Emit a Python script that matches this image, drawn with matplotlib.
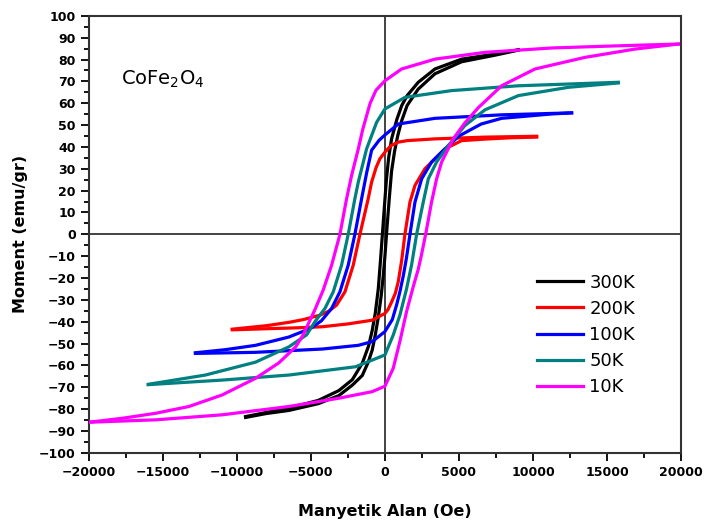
import matplotlib
matplotlib.use("Agg")
import matplotlib.pyplot as plt
from matplotlib.ticker import MultipleLocator

# hysteresis loops of CoFe2O4
# each temperature: descending branch (+Hmax -> -Hmax) and ascending branch (-Hmax -> +Hmax)
h_300_down = [9010, 7430, 5180, 3380, 2250, 1500, 1130, 800, 450, 250, 100, 0, -150, -300, -450,
              -650, -860, -1100, -1530, -2200, -3110, -4500, -6490, -8000, -9410]
m_300_down = [84.5, 82.5, 80.2, 75.7, 69.6, 63.5, 58.9, 52.5, 43.7, 35, 25, 16, 2, -12, -25,
              -36, -44, -51, -59, -66.5, -71.5, -76, -79.5, -81.5, -83.4]
h_300_up = [-9410, -8000, -6490, -4500, -3110, -2200, -1530, -1130, -860, -650, -450, -250, -100,
            0, 150, 300, 450, 650, 860, 1130, 1500, 2250, 3380, 5180, 7430, 9010]
m_300_up = [-83.8, -82, -80.6, -77.5, -73.8, -69, -64.6, -58.5, -53, -46, -38, -28, -18,
            -10, 4, 17, 29, 38, 45, 52, 59, 66.5, 73.5, 79, 82, 84.3]

h_200_down = [10250, 6760, 3380, 1500, 900, 400, 0, -340, -600, -900, -1130, -1690, -2140, -2700,
              -3270, -3800, -4390, -5500, -6420, -8000, -10310]
m_200_down = [44.9, 44.5, 43.7, 42.9, 42.2, 40.6, 37.6, 34.6, 30.5, 23.9, 16.3, 0, -14.1, -26.3,
              -32.4, -35.2, -37, -39, -40.2, -41.8, -43.4]
h_200_up = [-10310, -8000, -6000, -4240, -2500, -860, 0, 200, 450, 700, 900, 1130, 1350, 1690,
            2030, 2700, 3380, 4050, 5180, 6760, 8500, 10250]
m_200_up = [-43.7, -43.2, -42.8, -42.3, -41, -39.3, -36.2, -34.5, -31, -27, -21.7, -12, 0, 14.8,
            22.4, 30, 34.6, 39.1, 42.9, 43.6, 44.2, 44.5]

h_100_down = [12610, 7880, 3380, 900, 0, -400, -900, -1240, -1575, -2030, -2480, -3040, -3600,
              -4280, -5000, -6490, -8740, -10800, -12800]
m_100_down = [55.6, 54.7, 53.1, 50.5, 45.5, 43, 38.5, 28, 16.3, 0, -14.1, -26.3, -33.9,
              -39.5, -43, -47, -50.8, -52.8, -54.2]
h_100_up = [-12800, -8740, -4240, -1800, -860, 0, 500, 800, 1010, 1240, 1450, 1690, 2030, 2480,
            3150, 4050, 5000, 6500, 7880, 11260, 12610]
m_100_up = [-54.5, -54, -52.5, -50.8, -49.1, -44.5, -39, -32, -26.3, -19, -11, 0, 14.8, 25.4,
            33.1, 39.1, 45, 50.5, 53.1, 55.1, 55.6]

h_50_down = [15770, 9010, 4510, 1350, 0, -560, -1240, -1800, -2030, -2480, -2930, -3490, -4050,
             -4730, -5290, -6490, -8740, -12130, -15950]
m_50_down = [69.6, 68, 65.8, 62.7, 57.4, 51.3, 39.1, 23.9, 16.3, 0, -14.1, -26.3, -33.9,
             -40, -46, -51.5, -58.5, -64.4, -68.6]
h_50_up = [-16000, -10990, -6490, -1980, 0, 560, 1010, 1460, 1800, 2140, 2590, 2930, 3490, 4280,
           5400, 6760, 9010, 12390, 15770]
m_50_up = [-68.8, -66.7, -64.4, -60.6, -55.2, -46.1, -37, -25, -14, 0, 14.8, 25.4, 33.1, 40.6,
           49.8, 57, 63.5, 67.3, 69.3]

h_10_down = [19820, 15770, 11260, 6760, 3380, 1130, 0, -600, -1000, -1500, -1800, -2250, -2590,
             -3040, -3600, -4170, -4730, -5180, -5520, -6030, -7160, -8740, -10990, -13240,
             -15490, -17750, -20000]
m_10_down = [87.1, 86.3, 85.3, 83.3, 80.2, 75.7, 70.3, 66, 60, 48, 39.1, 27, 16.3,
             0, -14.1, -25.5, -34.5, -41, -46, -51.5, -58.8, -65.9, -73.5, -78.8,
             -81.9, -84.2, -86]
h_10_up = [-20000, -15490, -10990, -6490, -3110, -860, 0, 560, 1010, 1460, 1910, 2250, 2450, 2750,
           3150, 3490, 3830, 4610, 5400, 6310, 7880, 10140, 13510, 16890, 19820]
m_10_up = [-86, -84.9, -82.6, -78.8, -75, -72, -69.5, -61.3, -49, -35.4, -24, -16, -10, 0,
           14.8, 25.4, 33.1, 43.7, 51, 58, 68, 75.7, 81, 84.8, 87.1]

labels = ["300K", "200K", "100K", "50K", "10K"]
colors = ["#000000", "#ff0000", "#0000ff", "#008080", "#ff00ff"]

loops = [
    (h_300_down, m_300_down, h_300_up, m_300_up),
    (h_200_down, m_200_down, h_200_up, m_200_up),
    (h_100_down, m_100_down, h_100_up, m_100_up),
    (h_50_down, m_50_down, h_50_up, m_50_up),
    (h_10_down, m_10_down, h_10_up, m_10_up),
]

plt.rcParams["font.family"] = ["DejaVu Sans"]

fig = plt.figure(figsize=(7.05, 5.29), dpi=100)
ax = fig.add_axes([0.126, 0.144, 0.840, 0.826])

ax.axhline(0, color="#222222", lw=1.2, zorder=1)
ax.axvline(0, color="#222222", lw=1.2, zorder=1)

for (hd, md, hu, mu), lab, c in zip(loops, labels, colors):
    ax.plot(hd, md, color=c, lw=2.3, label=lab, zorder=3, solid_joinstyle="round")
    ax.plot(hu, mu, color=c, lw=2.3, zorder=3, solid_joinstyle="round")

ax.set_xlim(-20000, 20000)
ax.set_ylim(-100, 100)
ax.xaxis.set_major_locator(MultipleLocator(5000))
ax.xaxis.set_minor_locator(MultipleLocator(2500))
ax.yaxis.set_major_locator(MultipleLocator(10))
ax.yaxis.set_minor_locator(MultipleLocator(5))
ax.tick_params(which="major", direction="out", length=6, width=1.3, labelsize=9)
ax.tick_params(which="minor", direction="out", length=3.5, width=1.3)
for lbl in ax.get_xticklabels() + ax.get_yticklabels():
    lbl.set_fontweight("bold")
for sp in ax.spines.values():
    sp.set_linewidth(1.5)
    sp.set_color("#333333")

ax.set_xlabel("Manyetik Alan (Oe)", fontsize=11.5, fontweight="bold", labelpad=18)
ax.set_ylabel("Moment (emu/gr)", fontsize=11.5, fontweight="bold", labelpad=8)

ax.text(0.054, 0.855, r"CoFe$_\mathregular{2}$O$_\mathregular{4}$", transform=ax.transAxes,
        fontsize=14, va="center", ha="left")

ax.legend(loc="upper left", bbox_to_anchor=(0.757, 0.41), frameon=False, fontsize=13,
          handlelength=2.55, handletextpad=0.35, labelspacing=0.45, borderpad=0,
          borderaxespad=0)

fig.savefig("out.png", dpi=100)
